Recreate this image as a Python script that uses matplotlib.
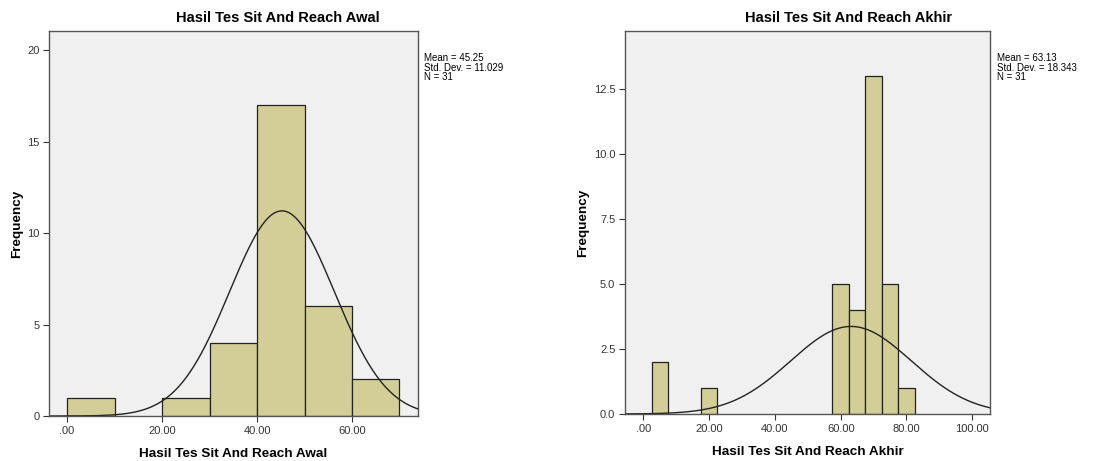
import matplotlib.pyplot as plt
import numpy as np

plt.rcParams['font.family'] = ['Liberation Sans', 'DejaVu Sans']

# Awal: bin edges and counts
awal_edges = [0, 10, 20, 30, 40, 50, 60, 70]
awal_counts = [1, 0, 1, 4, 17, 6, 2]
awal_mean = 45.25
awal_sd = 11.029
awal_n = 31

# Akhir: bin edges and counts
akhir_edges = [2.5, 7.5, 12.5, 17.5, 22.5, 27.5, 32.5, 37.5, 42.5, 47.5, 52.5,
               57.5, 62.5, 67.5, 72.5, 77.5, 82.5]
akhir_counts = [2, 0, 0, 1, 0, 0, 0, 0, 0, 0, 0, 5, 4, 13, 5, 1]
akhir_mean = 63.13
akhir_sd = 18.343
akhir_n = 31

fill = "#d3ce97"
bg = "#f0f0f0"

fig = plt.figure(figsize=(11.02, 4.61), dpi=100)


def hist_panel(rect, edges, counts, mean, sd, n, xlim, ylim, yticks, ytl,
               xticks, xtl, title, title_x, stats_x):
    ax = fig.add_axes(rect)
    ax.set_facecolor(bg)
    edges = np.array(edges, dtype=float)
    widths = np.diff(edges)
    for left, w, c in zip(edges[:-1], widths, counts):
        if c > 0:
            ax.bar(left, c, width=w, align='edge', color=fill,
                   edgecolor="#222222", linewidth=0.9)
    bw = widths[0]
    xs = np.linspace(xlim[0], xlim[1], 400)
    ys = n * bw / (sd * np.sqrt(2 * np.pi)) * np.exp(-0.5 * ((xs - mean) / sd) ** 2)
    ax.plot(xs, ys, color="#222222", linewidth=1.0)
    ax.set_xlim(*xlim)
    ax.set_ylim(*ylim)
    ax.set_yticks(yticks)
    ax.set_yticklabels(ytl, fontsize=8, color="#333333")
    ax.set_xticks(xticks)
    ax.set_xticklabels(xtl, fontsize=8, color="#333333")
    ax.tick_params(length=4, width=0.8, color="#333333", pad=3)
    for s in ax.spines.values():
        s.set_color("#555555")
        s.set_linewidth(1.0)
    ax.set_xlabel(title, fontsize=9.7, fontweight='bold', labelpad=8.5)
    ax.set_ylabel("Frequency", fontsize=9.7, fontweight='bold', labelpad=3)
    fig.text(title_x, 0.962, title, fontsize=10.5, fontweight='bold',
             ha='center', va='center')
    fig.text(stats_x, 0.885,
             "Mean = %.2f\nStd. Dev. = %.3f\nN = %d" % (mean, sd, n),
             fontsize=7, va='top', ha='left', linespacing=0.95)
    return ax


hist_panel([0.0445, 0.0976, 0.3348, 0.835], awal_edges, awal_counts,
           awal_mean, awal_sd, awal_n, (-3.8, 73.9), (0, 21.04),
           [0, 5, 10, 15, 20], ["0", "5", "10", "15", "20"],
           [0, 20, 40, 60], [".00", "20.00", "40.00", "60.00"],
           "Hasil Tes Sit And Reach Awal", 0.252, 0.385)

hist_panel([0.5672, 0.102, 0.3312, 0.8308], akhir_edges, akhir_counts,
           akhir_mean, akhir_sd, akhir_n, (-5.57, 105.4), (0, 14.75),
           [0, 2.5, 5, 7.5, 10, 12.5], ["0.0", "2.5", "5.0", "7.5", "10.0", "12.5"],
           [0, 20, 40, 60, 80, 100], [".00", "20.00", "40.00", "60.00", "80.00", "100.00"],
           "Hasil Tes Sit And Reach Akhir", 0.770, 0.905)

fig.savefig("out.png", dpi=100)
